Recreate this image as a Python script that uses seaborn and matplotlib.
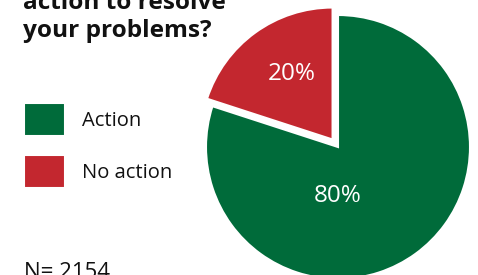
import matplotlib
matplotlib.use("Agg")
import matplotlib.pyplot as plt
import seaborn as sns

# data
labels = ["Action", "No action"]
shares = [80, 20]
colors = ["#006B3A", "#C3272F"]
n_total = 2154

sns.set_theme(style="white")
plt.rcParams['font.family'] = ['Open Sans', 'DejaVu Sans']

W, H = 478, 275
fig = plt.figure(figsize=(W / 100, H / 100), dpi=100)

# pie axes: centre (338,147) px, radius 132 px, limits +-1.1
cx, cy, r = 338, 147, 132
span = 1.1 * r
ax = fig.add_axes([(cx - span) / W, (H - cy - span) / H, 2 * span / W, 2 * span / H])

wedges, _ = ax.pie(shares, colors=colors, startangle=162, explode=[0, 0.07],
                   wedgeprops=dict(edgecolor="white", linewidth=1.5))
ax.set_xlim(-1.1, 1.1)
ax.set_ylim(-1.1, 1.1)
ax.set_aspect("equal")
ax.axis("off")

# percentage labels
ax.text(0, -0.37, f"{shares[0]}%", color="white", ha="center", va="center", fontsize=17.5)
ax.text(-0.35, 0.55, f"{shares[1]}%", color="white", ha="center", va="center", fontsize=17.5)

# title (partly cut at the top)
fig.text(23 / W, 1 - 37 / H, "action to resolve\nyour problems?", fontsize=17.6,
         fontweight="bold", ha="left", va="baseline", color="#111111", linespacing=1.2)

fs = 14.5
leg = fig.legend(wedges, labels, loc="upper left", bbox_to_anchor=(24 / W, 1 - 103 / H),
                 frameon=False, fontsize=fs, handlelength=2.04, handleheight=2.15,
                 labelspacing=0.945, handletextpad=0.85, borderpad=0, borderaxespad=0)
for t in leg.get_texts():
    t.set_color("#111111")

fig.text(24 / W, 1 - 278 / H, f"N= {n_total}", fontsize=16, ha="left", va="baseline",
         color="#111111")

fig.savefig("out.png", dpi=100)
